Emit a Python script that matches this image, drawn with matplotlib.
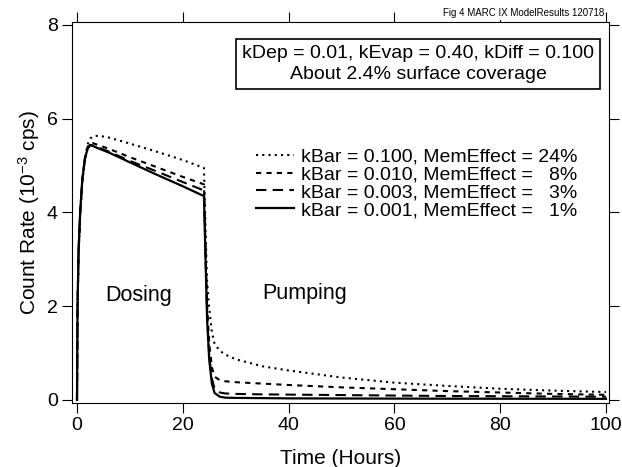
import numpy as np
import matplotlib
matplotlib.use("Agg")
import matplotlib.pyplot as plt

plt.rcParams['font.family'] = ['Liberation Sans', 'DejaVu Sans']
plt.rcParams['mathtext.default'] = 'regular'

# time grid (hours) shared by all four model runs
t = [0, 0.1, 0.3, 0.6, 1, 1.5, 2, 2.5, 3, 4, 6, 10, 15, 20, 24,
     24.3, 24.6, 25, 25.5, 26, 27, 28, 30, 35, 40, 50, 60, 70, 80, 90, 100]

# count rate (10^-3 cps)
kbar_100 = [0, 1.9, 3.1, 3.95, 4.65, 5.15, 5.45, 5.58, 5.62, 5.64, 5.6, 5.47, 5.3, 5.12, 4.95,
            3.6, 2.5, 1.95, 1.45, 1.2, 1.05, 0.97, 0.87, 0.72, 0.63, 0.48, 0.37, 0.3, 0.24, 0.2, 0.17]
kbar_010 = [0, 1.95, 3.15, 4.0, 4.7, 5.15, 5.4, 5.48, 5.48, 5.44, 5.36, 5.18, 4.97, 4.76, 4.6,
            3.2, 2.0, 1.2, 0.7, 0.5, 0.42, 0.4, 0.38, 0.35, 0.32, 0.27, 0.23, 0.19, 0.16, 0.13, 0.11]
kbar_003 = [0, 2.0, 3.2, 4.0, 4.7, 5.15, 5.37, 5.44, 5.43, 5.39, 5.3, 5.1, 4.88, 4.65, 4.47,
            3.1, 1.8, 0.95, 0.45, 0.25, 0.16, 0.14, 0.13, 0.12, 0.115, 0.105, 0.095, 0.085, 0.08, 0.075, 0.07]
kbar_001 = [0, 2.0, 3.2, 4.0, 4.7, 5.15, 5.36, 5.44, 5.42, 5.37, 5.28, 5.07, 4.81, 4.56, 4.35,
            3.0, 1.7, 0.85, 0.35, 0.15, 0.07, 0.05, 0.045, 0.04, 0.035, 0.032, 0.03, 0.028, 0.027, 0.026, 0.025]

labels = ["kBar = 0.100, MemEffect = 24%",
          "kBar = 0.010, MemEffect =   8%",
          "kBar = 0.003, MemEffect =   3%",
          "kBar = 0.001, MemEffect =   1%"]

fig = plt.figure(figsize=(6.22, 4.67), dpi=100)
ax = fig.add_axes([72/622, 1-403/467, (609-72)/622, (403-22)/467])

ax.plot(t, kbar_100, color='black', lw=1.5, ls=(0, (1, 2)), label=labels[0])
ax.plot(t, kbar_010, color='black', lw=1.5, ls=(0, (2.5, 2.5)), label=labels[1])
ax.plot(t, kbar_003, color='black', lw=1.5, ls=(0, (5, 3)), label=labels[2])
ax.plot(t, kbar_001, color='black', lw=1.6, ls='-', label=labels[3])

ax.set_xlim(-0.945, 100.57)
ax.set_ylim(-0.064, 8.064)
ax.set_xticks([0, 20, 40, 60, 80, 100])
ax.set_yticks([0, 2, 4, 6, 8])
ax.tick_params(direction='out', length=7.2, width=0.8, labelsize=14,
               top=True, right=True, pad=3)
for s in ax.spines.values():
    s.set_linewidth(0.8)

ax.set_xlabel("Time (Hours)", fontsize=15)
ax.xaxis.set_label_coords(0.5, -0.122)
ax.set_ylabel("Count Rate (10$^{-3}$ cps)", fontsize=15)
ax.yaxis.set_label_coords(-0.055, 0.5)

ax.text(11.7, 2.22, "Dosing", fontsize=15.5, ha='center', va='center')
ax.text(43.1, 2.28, "Pumping", fontsize=15.5, ha='center', va='center')

ax.text((418-72)/537, (403-64)/381,
        "kDep = 0.01, kEvap = 0.40, kDiff = 0.100\nAbout 2.4% surface coverage",
        transform=ax.transAxes, ha='center', va='center', fontsize=14, linespacing=1.3,
        bbox=dict(boxstyle='square,pad=0.3', fc='white', ec='black', lw=1.2))

ax.legend(loc='upper right', bbox_to_anchor=(0.966, 0.705), frameon=False, fontsize=14,
          handlelength=1.96, handletextpad=0.36, labelspacing=0.01, borderpad=0.2)

fig.text(0.971, 0.972, "Fig 4 MARC IX ModelResults 120718", fontsize=7, ha='right', va='center',
         bbox=dict(boxstyle='square,pad=0.15', fc='white', ec='none'))

fig.savefig("out.png", dpi=100)
